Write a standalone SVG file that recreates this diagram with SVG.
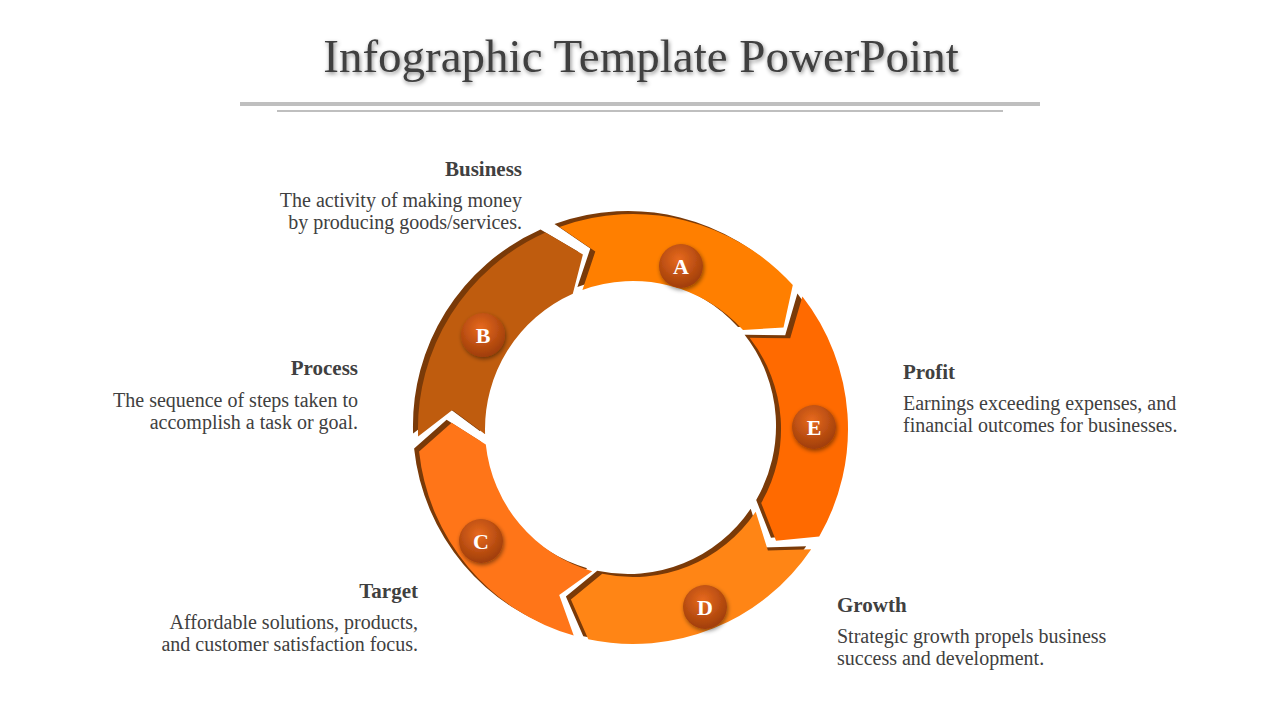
<svg xmlns="http://www.w3.org/2000/svg" width="1280" height="720" viewBox="0 0 1280 720">
<defs>
<radialGradient id="bg" cx="0.45" cy="0.35" r="0.7"><stop offset="0" stop-color="#E86A1E"/><stop offset="1" stop-color="#9A3A08"/></radialGradient>
<filter id="sh" x="-20%" y="-20%" width="140%" height="140%"><feDropShadow dx="1" dy="2" stdDeviation="2" flood-color="#000" flood-opacity="0.45"/></filter>
</defs>
<style>
.t{font-family:"Liberation Serif",serif;fill:#404040}
.h{font-size:21px;font-weight:bold}
.b{font-size:20px}
.l{font-family:"Liberation Serif",serif;font-size:22px;font-weight:bold;fill:#fff;text-anchor:middle}
.edge{fill:#7A3A08}
</style>
<rect width="1280" height="720" fill="#fff"/>
<text x="641" y="72" text-anchor="middle" class="t" font-size="47" filter="url(#sh)">Infographic Template PowerPoint</text>
<line x1="240" y1="104" x2="1040" y2="104" stroke="#BFBFBF" stroke-width="4"/>
<line x1="277" y1="111" x2="1003" y2="111" stroke="#BFBFBF" stroke-width="2"/>
<g id="seg-A">
<path class="edge" transform="translate(-5,-3)" d="M559.5,227 A215,215 0 0 1 792.8,285.1 L783.5,327.5 L743,330 A148,148 0 0 0 582.4,289.9 L595.3,251.5 Z"/>
<path fill="#FF7F00" d="M559.5,227 A215,215 0 0 1 792.8,285.1 L783.5,327.5 L743,330 A148,148 0 0 0 582.4,289.9 L595.3,251.5 Z"/>
</g>
<g id="seg-E">
<path class="edge" transform="translate(-5,-3)" d="M802.4,296.6 A215,215 0 0 1 819.2,536.5 L776,540.8 L761.2,503 A148,148 0 0 0 749.6,337.8 L790.2,338.3 Z"/>
<path fill="#FF6A00" d="M802.4,296.6 A215,215 0 0 1 819.2,536.5 L776,540.8 L761.2,503 A148,148 0 0 0 749.6,337.8 L790.2,338.3 Z"/>
</g>
<g id="seg-D">
<path class="edge" transform="translate(-5,-3)" d="M811.2,549.2 A215,215 0 0 1 588.3,639.3 L570.9,599.6 L602.2,573.8 A148,148 0 0 0 755.7,511.7 L767.9,550.4 Z"/>
<path fill="#FF8515" d="M811.2,549.2 A215,215 0 0 1 588.3,639.3 L570.9,599.6 L602.2,573.8 A148,148 0 0 0 755.7,511.7 L767.9,550.4 Z"/>
</g>
<g id="seg-C">
<path class="edge" transform="translate(-5,-3)" d="M573.7,635.6 A215,215 0 0 1 419.1,451.6 L451.6,422.7 L485.8,444.5 A148,148 0 0 0 592.2,571.2 L559.2,594.9 Z"/>
<path fill="#FF7518" d="M573.7,635.6 A215,215 0 0 1 419.1,451.6 L451.6,422.7 L485.8,444.5 A148,148 0 0 0 592.2,571.2 L559.2,594.9 Z"/>
</g>
<g id="seg-B">
<path class="edge" transform="translate(-5,-3)" d="M418.1,436.5 A215,215 0 0 1 545.5,232.5 L582.9,254.6 L572.8,293.8 A148,148 0 0 0 485.1,434.2 L452.4,410 Z"/>
<path fill="#BF5C0E" d="M418.1,436.5 A215,215 0 0 1 545.5,232.5 L582.9,254.6 L572.8,293.8 A148,148 0 0 0 485.1,434.2 L452.4,410 Z"/>
</g>
<g id="badge-A"><circle cx="681" cy="266" r="22" fill="url(#bg)" filter="url(#sh)"/><text x="681" y="274" class="l">A</text></g>
<g id="badge-B"><circle cx="483" cy="335" r="22" fill="url(#bg)" filter="url(#sh)"/><text x="483" y="343" class="l">B</text></g>
<g id="badge-C"><circle cx="481" cy="541" r="22" fill="url(#bg)" filter="url(#sh)"/><text x="481" y="549" class="l">C</text></g>
<g id="badge-D"><circle cx="705" cy="607" r="22" fill="url(#bg)" filter="url(#sh)"/><text x="705" y="615" class="l">D</text></g>
<g id="badge-E"><circle cx="814" cy="427" r="22" fill="url(#bg)" filter="url(#sh)"/><text x="814" y="435" class="l">E</text></g>
<g id="txt-business" text-anchor="end"><text x="522" y="176" class="t h">Business</text><text x="522" y="207" class="t b">The activity of making money</text><text x="522" y="229" class="t b">by producing goods/services.</text></g>
<g id="txt-process" text-anchor="end"><text x="358" y="375" class="t h">Process</text><text x="358" y="407" class="t b">The sequence of steps taken to</text><text x="358" y="429" class="t b">accomplish a task or goal.</text></g>
<g id="txt-target" text-anchor="end"><text x="418" y="598" class="t h">Target</text><text x="418" y="629" class="t b">Affordable solutions, products,</text><text x="418" y="651" class="t b">and customer satisfaction focus.</text></g>
<g id="txt-profit"><text x="903" y="379" class="t h">Profit</text><text x="903" y="410" class="t b">Earnings exceeding expenses, and</text><text x="903" y="432" class="t b">financial outcomes for businesses.</text></g>
<g id="txt-growth"><text x="837" y="612" class="t h">Growth</text><text x="837" y="643" class="t b">Strategic growth propels business</text><text x="837" y="665" class="t b">success and development.</text></g>
<g id="connectors"/>
</svg>
